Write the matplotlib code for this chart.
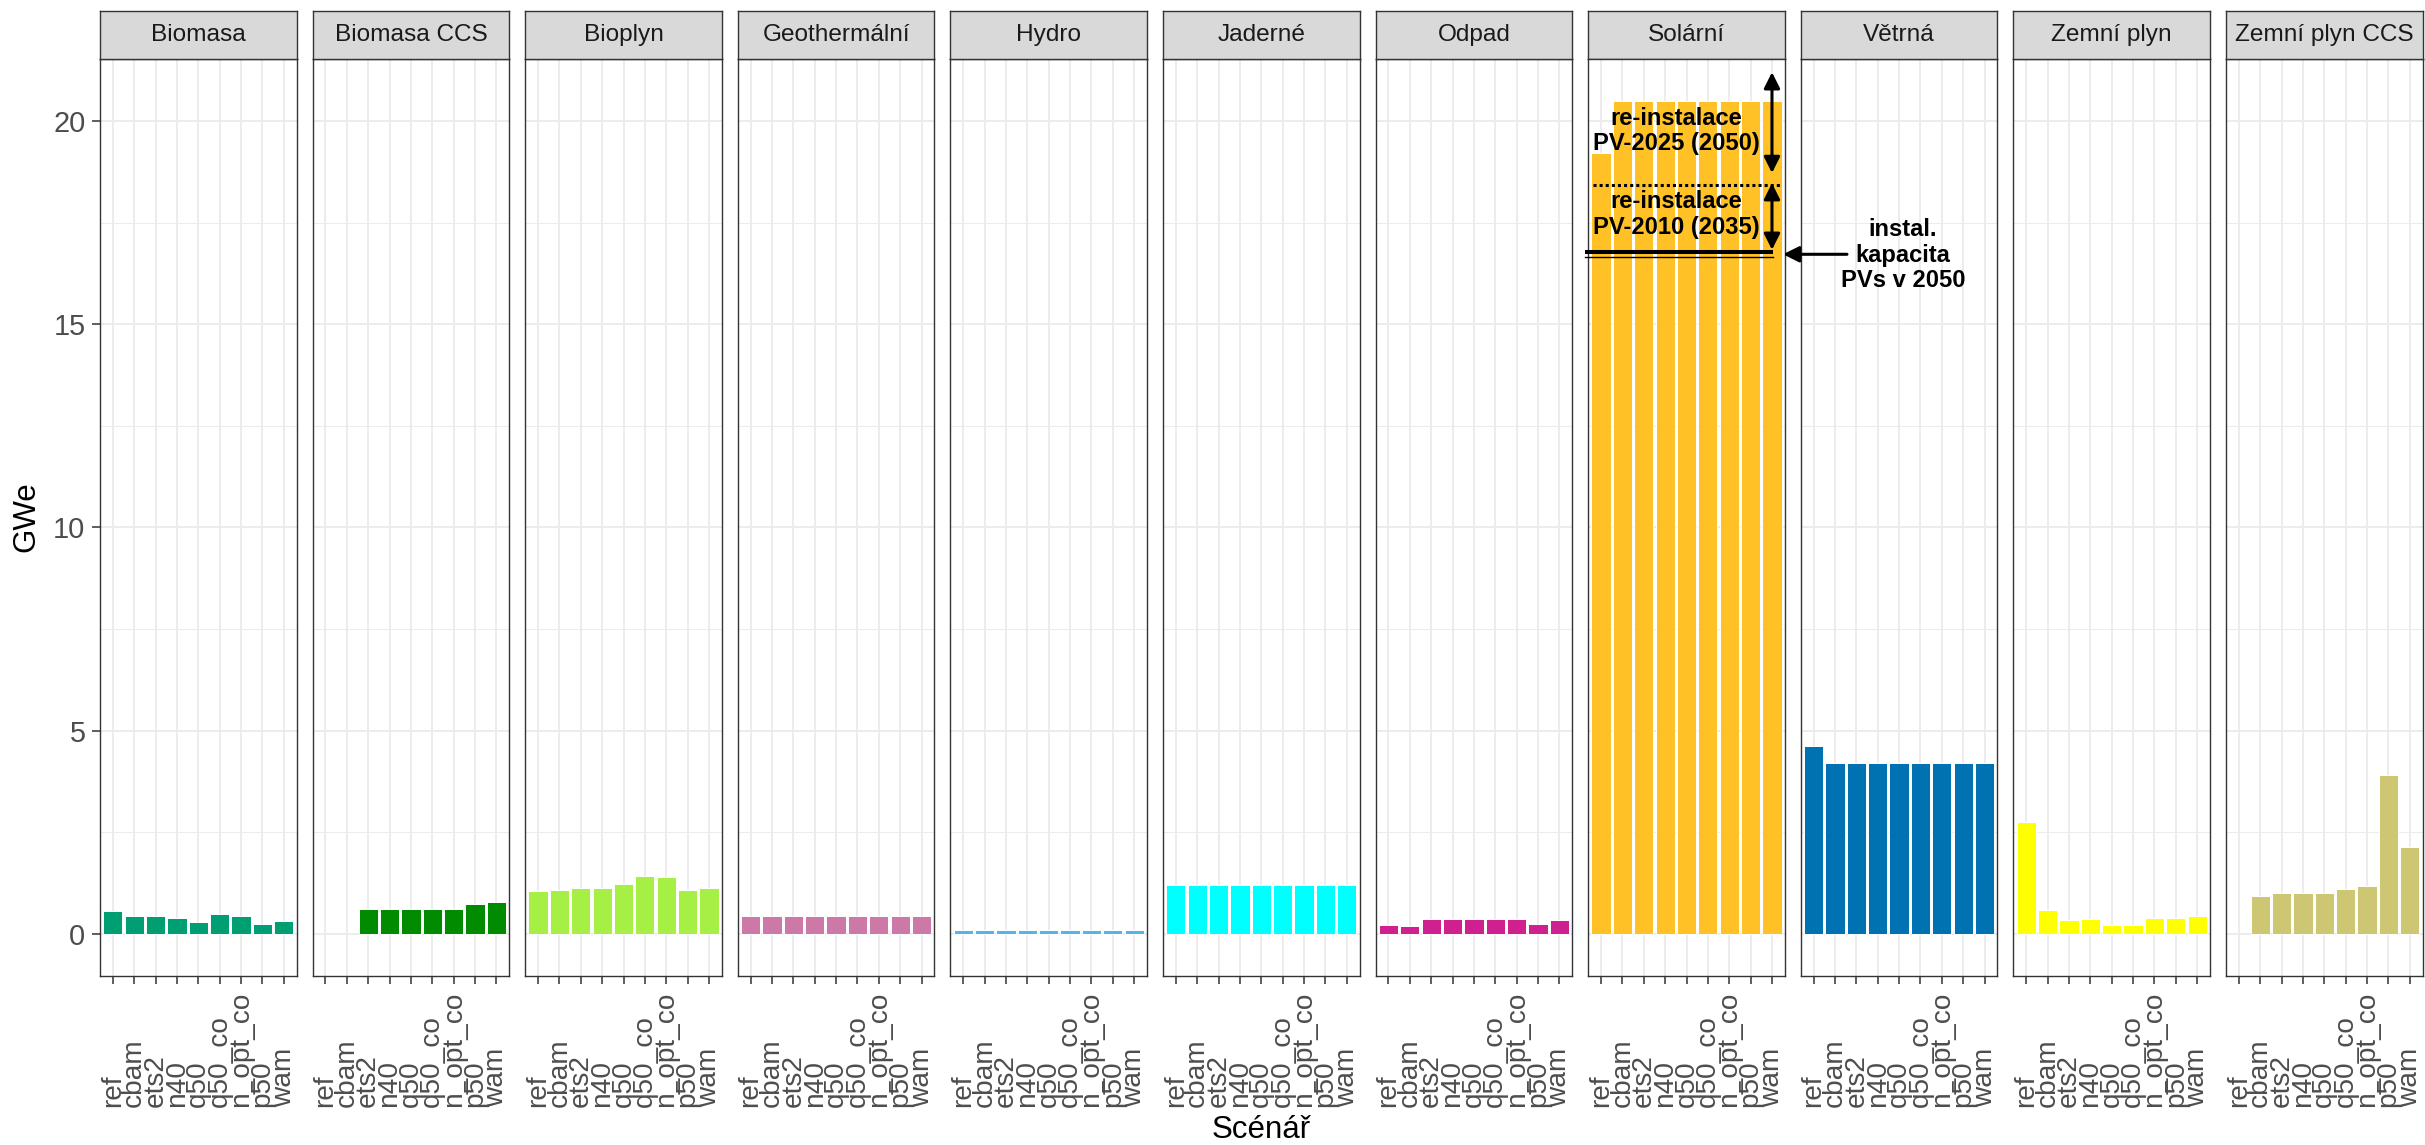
import numpy as np
import matplotlib
matplotlib.use("Agg")
import matplotlib.pyplot as plt
import matplotlib.transforms as mtransforms

plt.rcParams['font.family'] = ['Liberation Sans', 'DejaVu Sans']

# ---------------- data ----------------
scenarios = ['ref', 'cbam', 'ets2', 'n40', 'q50', 'q50_co', 'n_opt_co', 'p50', 'wam']
technologies = ['Biomasa', 'Biomasa CCS', 'Bioplyn', 'Geothermální', 'Hydro', 'Jaderné',
                'Odpad', 'Solární', 'Větrná', 'Zemní plyn', 'Zemní plyn CCS']

biomasa        = [0.57, 0.44, 0.44, 0.39, 0.28, 0.48, 0.44, 0.25, 0.32]
biomasa_ccs    = [None, None, 0.62, 0.62, 0.62, 0.60, 0.62, 0.73, 0.78]
bioplyn        = [1.05, 1.08, 1.12, 1.12, 1.23, 1.43, 1.40, 1.08, 1.12]
geotermalni    = [0.44, 0.44, 0.44, 0.44, 0.44, 0.44, 0.44, 0.44, 0.44]
hydro          = [0.10, 0.10, 0.10, 0.10, 0.10, 0.10, 0.10, 0.10, 0.10]
jaderne        = [1.20, 1.20, 1.20, 1.20, 1.20, 1.20, 1.20, 1.20, 1.20]
odpad          = [0.22, 0.20, 0.37, 0.37, 0.37, 0.37, 0.37, 0.25, 0.34]
solarni        = [19.22, 20.5, 20.5, 20.5, 20.5, 20.5, 20.5, 20.5, 20.5]
vetrna         = [4.61, 4.20, 4.20, 4.20, 4.20, 4.20, 4.20, 4.20, 4.20]
zemni_plyn     = [2.76, 0.59, 0.35, 0.37, 0.22, 0.22, 0.39, 0.39, 0.44]
zemni_plyn_ccs = [None, 0.93, 1.00, 1.00, 1.00, 1.10, 1.17, 3.91, 2.13]

series = [biomasa, biomasa_ccs, bioplyn, geotermalni, hydro, jaderne,
          odpad, solarni, vetrna, zemni_plyn, zemni_plyn_ccs]
colors = ['#009E73', '#008B00', '#A6F045', '#CC79A7', '#56B4E9', '#00FFFF',
          '#D02090', '#FFC125', '#0072B2', '#FFFF00', '#CDC673']

y_ticks = [0, 5, 10, 15, 20]
y_minor = [2.5, 7.5, 12.5, 17.5]

# annotation values (Solární panel)
pv_installed = 16.78
pv_installed_thin = 16.66
pv_2010_top = 18.42
arrow_top = 21.2

# ---------------- layout ----------------
W, H = 2425, 1145
fig = plt.figure(figsize=(W / 100, H / 100), dpi=100)
fig.patch.set_facecolor('white')

left0, pw, gap = 100.0, 196.6, 16.0
ptop, pbot = 59.0, 975.5
strip_top = 11.0

grid_c = '#EBEBEB'
border_c = '#333333'
tick_c = '#4D4D4D'
xtick_fs = 20.2
ytick_fs = 20.8

shift = mtransforms.ScaledTranslation(2.5 / 100, 0, fig.dpi_scale_trans)

axes = []
for i, (tech, vals, col) in enumerate(zip(technologies, series, colors)):
    l = left0 + i * (pw + gap)
    ax = fig.add_axes([l / W, (H - pbot) / H, pw / W, (pbot - ptop) / H])
    axes.append(ax)
    xs = [k for k, v in enumerate(vals) if v is not None]
    hs = [v for v in vals if v is not None]
    ax.bar(xs, hs, width=0.9, color=col, edgecolor='white', linewidth=0.7, zorder=2)
    ax.set_xlim(-0.6, len(scenarios) - 0.4)
    ax.set_ylim(-1.025, 21.525)
    ax.set_axisbelow(True)
    ax.set_yticks(y_ticks)
    ax.set_yticks(y_minor, minor=True)
    ax.set_xticks(range(len(scenarios)))
    ax.set_xticklabels(scenarios, rotation=90, va='bottom', ha='center',
                       fontsize=xtick_fs, color=tick_c)
    for lab in ax.get_xticklabels():
        lab.set_transform(lab.get_transform() + shift)
    ax.grid(which='major', color=grid_c, linewidth=1.3, zorder=0)
    ax.grid(which='minor', axis='y', color=grid_c, linewidth=0.65, zorder=0)
    ax.tick_params(which='minor', length=0)
    ax.tick_params(axis='x', length=5.5, width=1.1, color=border_c, pad=89)
    if i == 0:
        ax.tick_params(axis='y', length=5.5, width=1.1, color=border_c,
                       labelsize=ytick_fs, labelcolor=tick_c, pad=5)
    else:
        ax.tick_params(axis='y', left=False, labelleft=False)
    for s in ax.spines.values():
        s.set_color(border_c)
        s.set_linewidth(1.0)

    sax = fig.add_axes([l / W, (H - ptop) / H, pw / W, (ptop - strip_top) / H])
    sax.set_facecolor('#D9D9D9')
    sax.set_xticks([])
    sax.set_yticks([])
    for s in sax.spines.values():
        s.set_color(border_c)
        s.set_linewidth(1.0)
    sax.text(0.5, 0.5, tech, ha='center', va='center', fontsize=17.6,
             color='#1A1A1A', transform=sax.transAxes)

# ---------------- annotations in Solární ----------------
ax = axes[technologies.index('Solární')]
ax.set_zorder(10)
ax.plot([-0.75, 8.05], [pv_installed, pv_installed], color='black', lw=2.9,
        solid_capstyle='butt', clip_on=False, zorder=5)
ax.plot([-0.75, 8.05], [pv_installed_thin, pv_installed_thin], color='black', lw=1.0,
        clip_on=False, zorder=5)
ax.plot([-0.39, 8.41], [pv_2010_top, pv_2010_top], color='black', lw=2.2,
        linestyle=(0, (1, 1)), clip_on=False, zorder=5)

astyle = '<|-|>,head_length=0.6,head_width=0.3'
ax.annotate('', xy=(8, arrow_top), xytext=(8, 18.72),
            arrowprops=dict(arrowstyle=astyle, lw=2.2, color='black',
                            mutation_scale=16, shrinkA=0, shrinkB=0), zorder=6)
ax.annotate('', xy=(8, 18.47), xytext=(8, 16.83),
            arrowprops=dict(arrowstyle=astyle, lw=2.2, color='black',
                            mutation_scale=16, shrinkA=0, shrinkB=0), zorder=6)
ax.annotate('', xy=(8.52, 16.72), xytext=(11.51, 16.72), annotation_clip=False,
            arrowprops=dict(arrowstyle='-|>,head_length=0.6,head_width=0.3', lw=2.2,
                            color='black', mutation_scale=16, shrinkA=0, shrinkB=0),
            zorder=6)

ax.text(3.52, 19.75, 're-instalace\nPV-2025 (2050)', ha='center', va='center',
        fontsize=17.1, fontweight='bold', linespacing=1.15, zorder=7)
ax.text(3.52, 17.70, 're-instalace\nPV-2010 (2035)', ha='center', va='center',
        fontsize=17.1, fontweight='bold', linespacing=1.15, zorder=7)
ax.text(14.13, 16.70, 'instal.\nkapacita\nPVs v 2050', ha='center', va='center',
        fontsize=17.1, fontweight='bold', linespacing=1.15, zorder=7, clip_on=False)

# ---------------- axis titles ----------------
fig.text(26 / W, 1 - 517 / H, 'GWe', rotation=90, ha='center', va='center', fontsize=22.5)
fig.text(1261 / W, 1 - 1130 / H, 'Scénář', ha='center', va='center', fontsize=22.5)

fig.savefig('out.png', dpi=100)
